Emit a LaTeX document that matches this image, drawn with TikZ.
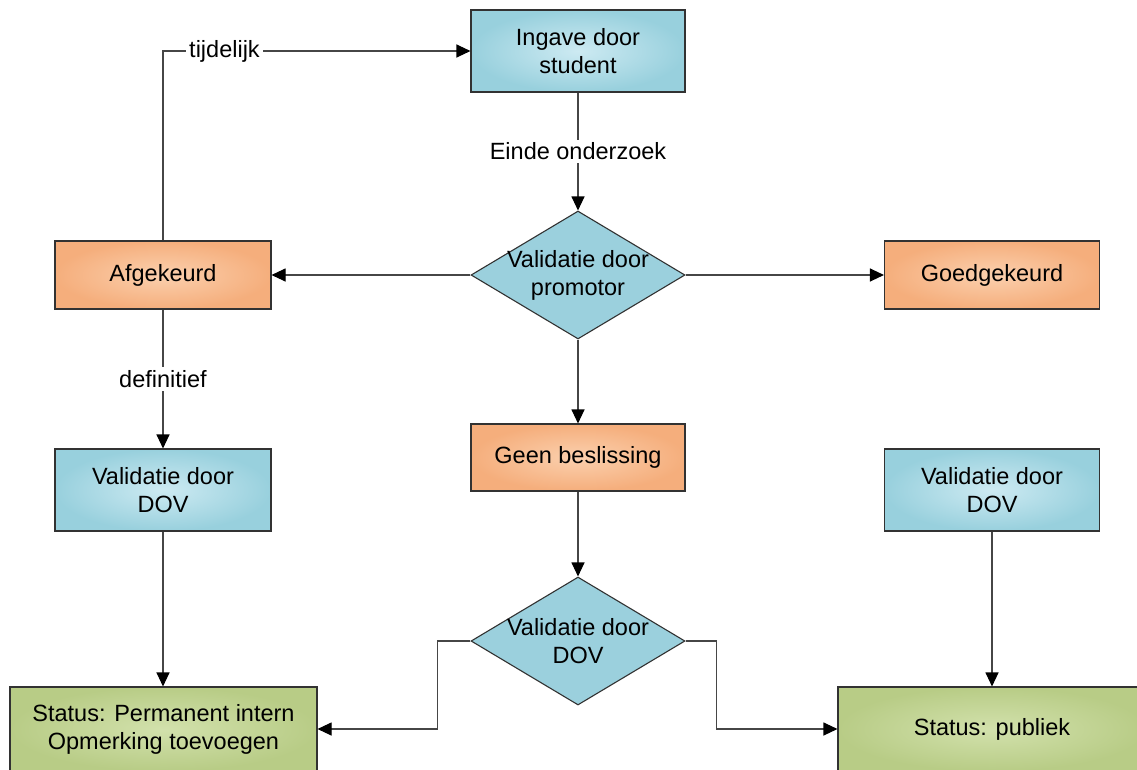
\documentclass[tikz,border=0pt]{standalone}
\usepackage{fontspec}
\setmainfont{Liberation Sans}
\usetikzlibrary{arrows.meta,shapes.geometric}
\definecolor{lineclr}{RGB}{70,70,70}
\definecolor{bordclr}{RGB}{50,50,50}
\definecolor{blueout}{RGB}{152,208,221}
\definecolor{bluein}{RGB}{205,234,242}
\definecolor{oranout}{RGB}{245,174,124}
\definecolor{oranin}{RGB}{251,208,174}
\definecolor{greenout}{RGB}{184,204,134}
\definecolor{greenin}{RGB}{210,225,172}
\definecolor{diafill}{RGB}{155,208,221}
\tikzset{
  base/.style={draw=bordclr, line width=1.1pt, inner sep=0pt, align=center,
    font=\fontsize{23.5}{28}\selectfont},
  bluebox/.style={base, rectangle, shading=radial, inner color=bluein, outer color=blueout},
  orangebox/.style={base, rectangle, shading=radial, inner color=oranin, outer color=oranout},
  greenbox/.style={base, rectangle, shading=radial, inner color=greenin, outer color=greenout},
  diabox/.style={draw=bordclr, line width=1.1pt, fill=diafill, shape=diamond, inner sep=0pt,
    minimum width=214pt, minimum height=128pt, aspect=1.67},
  txt/.style={align=center, inner sep=0pt, font=\fontsize{23.5}{28}\selectfont},
  arr/.style={draw=lineclr, line width=1.1pt, -{Triangle[length=14pt,width=13pt,fill=black,color=black]}},
  lbl/.style={fill=white, inner sep=3pt, font=\fontsize{23.5}{28}\selectfont}
}
\begin{document}
\begin{tikzpicture}[x=1pt,y=-1pt]
\useasboundingbox (0,0) rectangle (1137,769);
\clip (0,0) rectangle (1137,769);
\fill[white] (0,0) rectangle (1137,769);

\node[bluebox, minimum width=214pt, minimum height=82pt] (ing) at (578,51) {Ingave door\\student};
\node[diabox] (d1) at (578,275) {};
\node[txt] (d1t) at (578,275) {Validatie door\\promotor};
\node[orangebox, minimum width=216pt, minimum height=68pt] (afg) at (163,275) {Afgekeurd};
\node[orangebox, minimum width=215pt, minimum height=68pt] (goed) at (992,275) {Goedgekeurd};
\node[orangebox, minimum width=214pt, minimum height=67pt] (geen) at (578,457.5) {Geen beslissing};
\node[bluebox, minimum width=216pt, minimum height=82pt] (dovl) at (163,490) {Validatie door\\DOV};
\node[bluebox, minimum width=215pt, minimum height=82pt] (dovr) at (992,490) {Validatie door\\DOV};
\node[diabox] (d2) at (578,641) {};
\node[txt] (d2t) at (578,641) {Validatie door\\DOV};
\node[greenbox, minimum width=307pt, minimum height=84pt] (stl) at (163.5,729) {Status: Permanent intern\\Opmerking toevoegen};
\node[greenbox, minimum width=308pt, minimum height=84pt] (str) at (992,729) {Status: publiek};

\draw[arr] (afg.north) |- node[lbl, pos=0.6] {tijdelijk} (ing.west);
\draw[arr] (ing.south) -- node[lbl] {Einde onderzoek} (d1.north);
\draw[arr] (afg.south) -- node[lbl] {definitief} (dovl.north);
\draw[arr] (d1.west) -- (afg.east);
\draw[arr] (d1.east) -- (goed.west);
\draw[arr] (d1.south) -- (geen.north);
\draw[arr] (geen.south) -- (d2.north);
\draw[arr] (dovl.south) -- (dovl.south |- stl.north);
\draw[arr] (dovr.south) -- (str.north);
\draw[arr] (d2.west) -- ++(-33,0) |- (stl.east);
\draw[arr] (d2.east) -- ++(31,0) |- (str.west);
\end{tikzpicture}
\end{document}
